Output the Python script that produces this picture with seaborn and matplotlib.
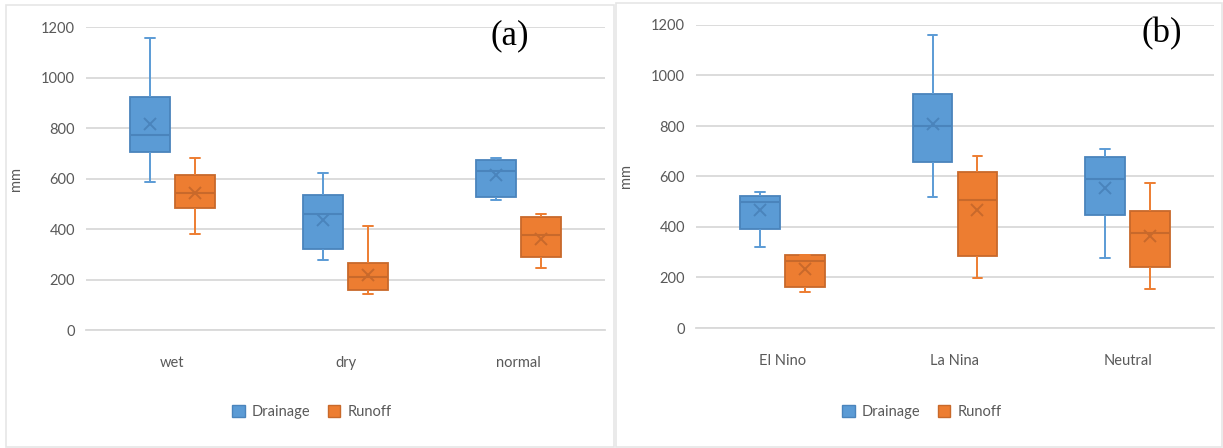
import matplotlib
matplotlib.use("Agg")
import matplotlib.pyplot as plt
from matplotlib.patches import Patch, Rectangle
import pandas as pd
import seaborn as sns

# ---- data -------------------------------------------------------------
series = ["Drainage", "Runoff"]

# (a) wet / dry / normal years
cats_a = ["wet", "dry", "normal"]
drain_a_min = [588, 277, 515]
drain_a_q1 = [704, 319, 526]
drain_a_med = [773, 460, 631]
drain_a_q3 = [921, 534, 675]
drain_a_max = [1155, 620, 681]
drain_a_mean = [815, 435, 614]

runoff_a_min = [380, 141, 245]
runoff_a_q1 = [483, 160, 288]
runoff_a_med = [541, 211, 375]
runoff_a_q3 = [615, 264, 449]
runoff_a_max = [681, 411, 461]
runoff_a_mean = [541, 218, 359]

# (b) ENSO phases
cats_b = ["El Nino", "La Nina", "Neutral"]
drain_b_min = [321, 517, 278]
drain_b_q1 = [393, 657, 449]
drain_b_med = [500, 801, 591]
drain_b_q3 = [524, 927, 678]
drain_b_max = [537, 1162, 708]
drain_b_mean = [466, 809, 554]

runoff_b_min = [142, 199, 156]
runoff_b_q1 = [161, 284, 240]
runoff_b_med = [266, 505, 376]
runoff_b_q3 = [290, 616, 463]
runoff_b_max = [290, 683, 574]
runoff_b_mean = [233, 466, 364]

y_ticks = [0, 200, 400, 600, 800, 1000, 1200]

# ---- styling ----------------------------------------------------------
fills = ["#5B9BD5", "#ED7D31"]
darks = ["#4A84BC", "#C8692B"]
grid_c = "#D9D9D9"
text_c = "#595959"

sns.set_style("white")
plt.rcParams["font.family"] = ["Lato", "DejaVu Sans"]

W, H = 1223, 448
fig = plt.figure(figsize=(W / 100, H / 100), dpi=100)


def five_number_frame(cats, stats_by_series):
    """Long table: each group holds its five-number summary, so the
    quartiles and whisker ends come out exactly as given."""
    rows = []
    for name, stats in zip(series, stats_by_series):
        for i, c in enumerate(cats):
            for arr in stats:
                rows.append({"cat": c, "series": name, "mm": arr[i]})
    return pd.DataFrame(rows)


def mean_frame(cats, means_by_series):
    rows = []
    for name, means in zip(series, means_by_series):
        for c, m in zip(cats, means):
            rows.append({"cat": c, "series": name, "mm": m})
    return pd.DataFrame(rows)


def draw_panel(rect, cats, stats, means, tag, tag_x, legend_x):
    ax = fig.add_axes(rect)
    df = five_number_frame(cats, stats)
    dm = mean_frame(cats, means)
    sns.boxplot(data=df, x="cat", y="mm", hue="series", order=cats,
                hue_order=series, palette=fills, width=0.52, gap=0.12,
                whis=(0, 100), linewidth=1.3, capwidths=0.055,
                showfliers=False, legend=False, ax=ax)
    for cont, fill, dark in zip(ax.containers, fills, darks):
        for b in cont.boxes:
            b.set_facecolor(fill)
            b.set_edgecolor(dark)
            b.set_linewidth(1.3)
        for ln in cont.medians:
            ln.set_color(dark)
            ln.set_linewidth(1.5)
        for ln in list(cont.whiskers) + list(cont.caps):
            ln.set_color(fill)
            ln.set_linewidth(1.4)
    sns.pointplot(data=dm, x="cat", y="mm", hue="series", order=cats,
                  hue_order=series, palette=darks, dodge=0.26,
                  linestyle="none", markers="x", markersize=9,
                  markeredgewidth=1.4, errorbar=None, legend=False, ax=ax)

    ax.set_xlim(-0.5, len(cats) - 0.5)
    ax.set_ylim(0, 1200)
    ax.set_yticks(y_ticks)
    ax.yaxis.grid(True, color=grid_c, linewidth=1.3)
    ax.set_axisbelow(True)
    for s in ["top", "right", "left"]:
        ax.spines[s].set_visible(False)
    ax.spines["bottom"].set_color(grid_c)
    ax.spines["bottom"].set_linewidth(1.3)
    ax.tick_params(axis="both", length=0, labelsize=10.5, labelcolor=text_c)
    ax.tick_params(axis="x", pad=19)
    ax.tick_params(axis="y", pad=8)
    ax.set_xlabel("")
    ax.set_ylabel("mm", color=text_c, fontsize=10.5, labelpad=13)
    ax.text(tag_x, 0.97, tag, transform=ax.transAxes, ha="center",
            va="center", fontsize=25, family="Liberation Serif",
            color="black")

    handles = [Patch(facecolor=f, edgecolor=d, linewidth=1)
               for f, d in zip(fills, darks)]
    fig.legend(handles, series, loc="center",
               bbox_to_anchor=(legend_x, 1 - 412 / H), ncol=2,
               frameon=False, fontsize=10.5, labelcolor=text_c,
               handlelength=0.85, handleheight=0.85, handletextpad=0.5,
               columnspacing=1.2)
    return ax


def frac(x0, y_top, x1, y_bot):
    return [x0 / W, 1 - y_bot / H, (x1 - x0) / W, (y_bot - y_top) / H]


draw_panel(frac(86, 27, 605, 330), cats_a,
           [[drain_a_min, drain_a_q1, drain_a_med, drain_a_q3, drain_a_max],
            [runoff_a_min, runoff_a_q1, runoff_a_med, runoff_a_q3, runoff_a_max]],
           [drain_a_mean, runoff_a_mean], "(a)", 0.817, 312 / W)

draw_panel(frac(696, 25, 1214, 328), cats_b,
           [[drain_b_min, drain_b_q1, drain_b_med, drain_b_q3, drain_b_max],
            [runoff_b_min, runoff_b_q1, runoff_b_med, runoff_b_q3, runoff_b_max]],
           [drain_b_mean, runoff_b_mean], "(b)", 0.90, 922 / W)

# chart-area frames around each panel
for x0, y0, x1, y1 in [(6, 5, 614, 447), (616, 3, 1222, 447)]:
    fig.add_artist(Rectangle((x0 / W, 1 - y1 / H), (x1 - x0) / W,
                             (y1 - y0) / H, transform=fig.transFigure,
                             fill=False, edgecolor="#E6E6E6", linewidth=1.2))

fig.savefig("out.png", dpi=100, facecolor="white")
